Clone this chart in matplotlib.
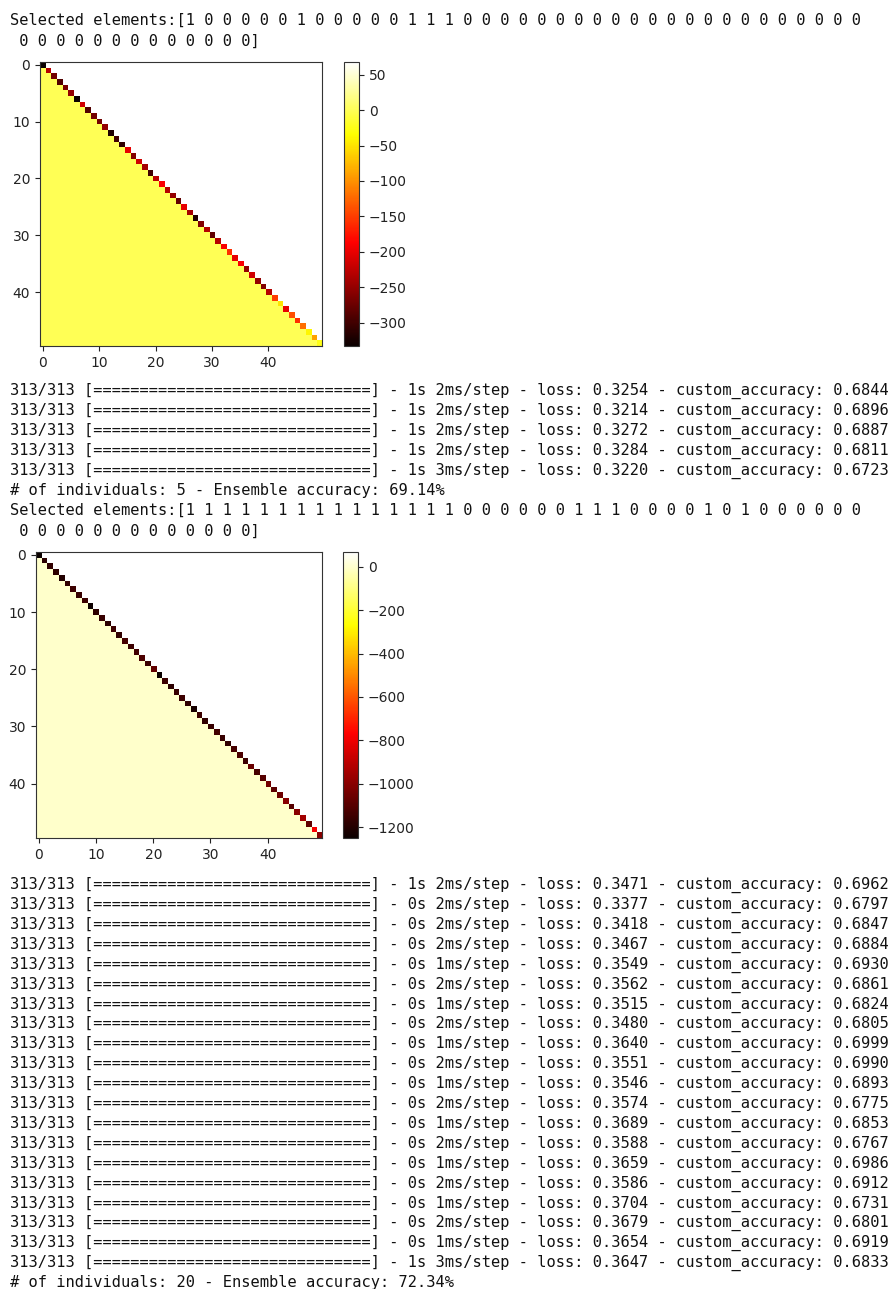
import matplotlib
matplotlib.use('Agg')
import matplotlib.pyplot as plt
import numpy as np

W, H = 896, 1289

# selected elements (50 flags each run)
sel1 = [1, 0, 0, 0, 0, 0, 1, 0, 0, 0, 0, 0, 1, 1, 1] + [0] * 35
sel2 = [1] * 15 + [0] * 6 + [1, 1, 1] + [0] * 4 + [1, 0, 1] + [0] * 19

# diagonal values of the two 50x50 matrices
diag1 = [-333, -230, -270, -290, -265, -250, -333, -215, -290, -270,
         -270, -250, -320, -300, -310, -200, -260, -215, -240, -300,
         -225, -190, -230, -250, -280, -200, -240, -320, -260, -230,
         -280, -230, -190, -160, -200, -190, -250, -215, -250, -260,
         -230, -150, -50, -200, -140, -160, -120, -40, -90, -25]
upper1, lower1 = 68, 0

diag2 = [-1250, -1180, -1170, -1180, -1200, -1170, -1150, -1160, -1150, -1240,
         -1180, -1160, -1180, -1150, -1170, -1130, -1150, -1140, -1120, -1150,
         -1080, -1245, -1150, -1180, -1160, -1150, -1170, -1220, -1150, -1170,
         -1160, -1140, -1160, -1170, -1130, -1120, -1150, -1060, -1130, -1100,
         -1040, -1090, -1050, -1000, -1100, -1000, -950, -1080, -780, -1000]
upper2, lower2 = 68, 0

# training log of each run
secs1 = [1, 1, 1, 1, 1]
ms1 = [2, 2, 2, 2, 3]
loss1 = [0.3254, 0.3214, 0.3272, 0.3284, 0.3220]
acc1 = [0.6844, 0.6896, 0.6887, 0.6811, 0.6723]
ens1 = (5, 69.14)

secs2 = [1] + [0] * 18 + [1]
ms2 = [2, 2, 2, 2, 1, 2, 1, 2, 1, 2, 1, 2, 1, 2, 1, 2, 1, 2, 1, 3]
loss2 = [0.3471, 0.3377, 0.3418, 0.3467, 0.3549, 0.3562, 0.3515, 0.3480, 0.3640, 0.3551,
         0.3546, 0.3574, 0.3689, 0.3588, 0.3659, 0.3586, 0.3704, 0.3679, 0.3654, 0.3647]
acc2 = [0.6962, 0.6797, 0.6847, 0.6884, 0.6930, 0.6861, 0.6824, 0.6805, 0.6999, 0.6990,
        0.6893, 0.6775, 0.6853, 0.6767, 0.6986, 0.6912, 0.6731, 0.6801, 0.6919, 0.6833]
ens2 = (20, 72.34)


def build(diag, upper, lower):
    n = len(diag)
    m = np.full((n, n), float(lower))
    m[np.triu_indices(n, 1)] = upper
    m[np.diag_indices(n)] = diag
    return m


fig = plt.figure(figsize=(W / 100, H / 100), dpi=100)
mono = dict(family='DejaVu Sans Mono', fontsize=11.1, color='#111111', va='center', ha='left')


def line(y, s):
    fig.text(10 / W, 1 - y / H, s, **mono)


def sel_lines(y, sel):
    s = ' '.join(str(v) for v in sel)
    line(y, 'Selected elements:[' + s[:37 * 2 - 1])
    line(y + 21, ' ' + s[37 * 2:] + ']')


def log_lines(y0, secs, ms, loss, acc, ens, step=19.9):
    for i in range(len(loss)):
        line(y0 + i * step, '313/313 [' + '=' * 30 + '] - %ds %dms/step - loss: %.4f - custom_accuracy: %.4f'
             % (secs[i], ms[i], loss[i], acc[i]))
    line(y0 + len(loss) * step, '# of individuals: %d - Ensemble accuracy: %.2f%%' % ens)


def heat(box, cbox, mat):
    ax = fig.add_axes([box[0] / W, 1 - box[3] / H, (box[2] - box[0]) / W, (box[3] - box[1]) / H])
    im = ax.imshow(mat, cmap='hot', aspect='auto')
    ax.set_xticks([0, 10, 20, 30, 40])
    ax.set_yticks([0, 10, 20, 30, 40])
    ax.tick_params(colors='#222222', labelsize=10)
    for sp in ax.spines.values():
        sp.set_color('#333333')
    cax = fig.add_axes([cbox[0] / W, 1 - cbox[3] / H, (cbox[2] - cbox[0]) / W, (cbox[3] - cbox[1]) / H])
    cb = fig.colorbar(im, cax=cax)
    cb.ax.tick_params(colors='#222222', labelsize=10)
    cb.outline.set_edgecolor('#333333')
    return ax


sel_lines(20.5, sel1)
heat((40, 62, 322, 346), (344, 62, 359, 346), build(diag1, upper1, lower1))
log_lines(391, secs1, ms1, loss1, acc1, ens1)

sel_lines(510.5, sel2)
heat((36, 552, 322, 838), (343, 552, 358, 838), build(diag2, upper2, lower2))
log_lines(885, secs2, ms2, loss2, acc2, ens2)

fig.savefig('out.png', dpi=100)
